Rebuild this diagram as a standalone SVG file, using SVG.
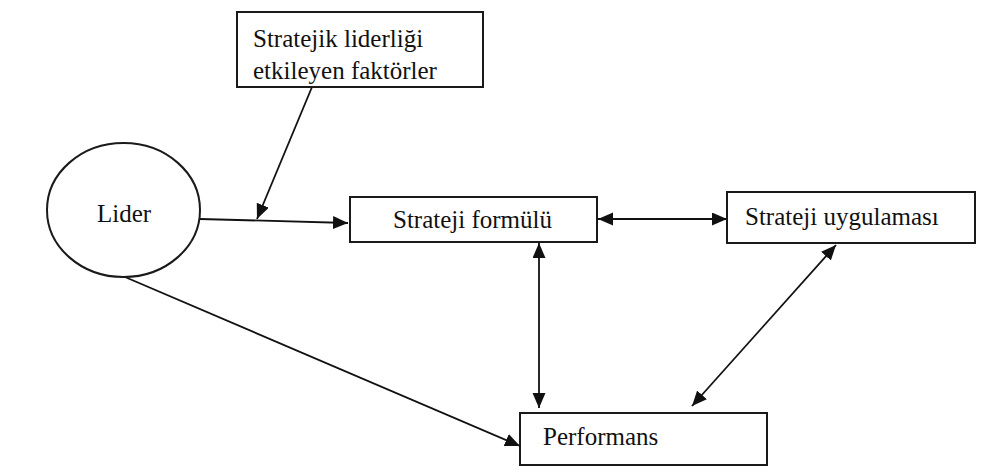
<svg xmlns="http://www.w3.org/2000/svg" width="1007" height="471" viewBox="0 0 1007 471">
  <style>
    .box { fill: #fff; stroke: #1a1a1a; stroke-width: 2; }
    .lbl { font-family: "Liberation Serif", "Times New Roman", serif; font-size: 25px; fill: #111; }
    .link { stroke: #111; stroke-width: 1.8; fill: none; }
  </style>
  <defs>
    <marker id="head" markerUnits="userSpaceOnUse" markerWidth="18" markerHeight="15" refX="15" refY="6.5" orient="auto-start-reverse">
      <path d="M0,0 L15,6.5 L0,13 Z" fill="#111"/>
    </marker>
  </defs>
  <rect width="1007" height="471" fill="#fff"/>

  <g id="connectors">
    <!-- Lider -> Strateji formülü -->
    <line class="link" x1="200" y1="219" x2="348" y2="223" marker-end="url(#head)"/>
    <!-- factors -> Lider/formülü link -->
    <line class="link" x1="312" y1="87" x2="257" y2="219" marker-end="url(#head)"/>
    <!-- formülü <-> uygulaması -->
    <line class="link" x1="598" y1="219" x2="727" y2="219" marker-start="url(#head)" marker-end="url(#head)"/>
    <!-- formülü <-> Performans -->
    <line class="link" x1="539" y1="243" x2="539" y2="408" marker-start="url(#head)" marker-end="url(#head)"/>
    <!-- uygulaması <-> Performans -->
    <line class="link" x1="836" y1="245" x2="692" y2="406" marker-start="url(#head)" marker-end="url(#head)"/>
    <!-- Lider -> Performans -->
    <line class="link" x1="125" y1="277" x2="520" y2="446" marker-end="url(#head)"/>
  </g>

  <g id="factors">
    <rect class="box" x="237" y="12" width="246" height="75"/>
    <text class="lbl" x="253" y="47">Stratejik liderliği</text>
    <text class="lbl" x="253" y="79">etkileyen faktörler</text>
  </g>

  <g id="lider">
    <ellipse cx="123.5" cy="210" rx="76.5" ry="67" fill="#fff" stroke="#1a1a1a" stroke-width="2"/>
    <text class="lbl" x="97" y="222">Lider</text>
  </g>

  <g id="formulu">
    <rect class="box" x="350" y="197" width="247" height="45"/>
    <text class="lbl" x="393" y="228">Strateji formülü</text>
  </g>

  <g id="uygulamasi">
    <rect class="box" x="727" y="192" width="248" height="51"/>
    <text class="lbl" x="745" y="225">Strateji uygulaması</text>
  </g>

  <g id="performans">
    <rect class="box" x="520" y="413" width="247" height="52"/>
    <text class="lbl" x="543" y="445">Performans</text>
  </g>
</svg>
